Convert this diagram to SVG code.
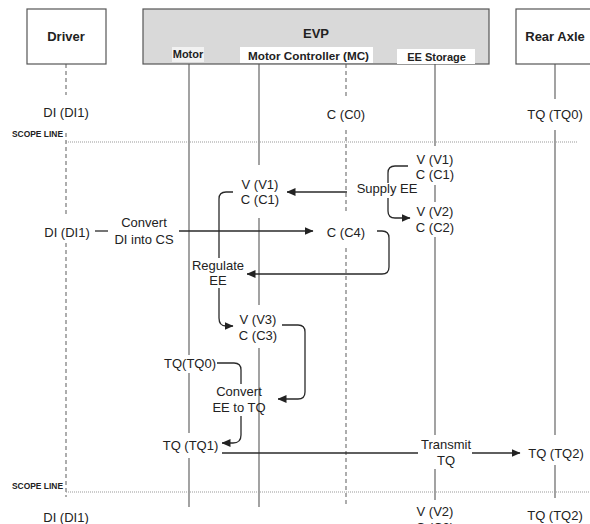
<svg xmlns="http://www.w3.org/2000/svg" width="590" height="524" viewBox="0 0 590 524">
<defs>
<marker id="ah" markerWidth="9" markerHeight="8" refX="8.5" refY="4" orient="auto" markerUnits="userSpaceOnUse">
<path d="M0,0 L9,4 L0,8 Z" fill="#222"/>
</marker>
<style>
.t{font-family:"Liberation Sans",Arial,sans-serif;font-size:13px;fill:#222;text-anchor:middle}
.h{font-family:"Liberation Sans",Arial,sans-serif;font-size:13px;font-weight:bold;fill:#222;text-anchor:middle}
.s{font-family:"Liberation Sans",Arial,sans-serif;font-size:11px;font-weight:bold;fill:#222;text-anchor:middle}
.sc{font-family:"Liberation Sans Narrow","Liberation Sans",Arial,sans-serif;font-size:8.5px;font-weight:bold;fill:#222;text-anchor:start}
.ll{stroke:#666;stroke-width:1.2;fill:none}
.dl{stroke:#777;stroke-width:1.2;stroke-dasharray:4 3;fill:none}
.sl{stroke:#999;stroke-width:1;stroke-dasharray:1 1;fill:none}
.c{stroke:#2a2a2a;stroke-width:1.3;fill:none}
.ca{stroke:#2a2a2a;stroke-width:1.3;fill:none;marker-end:url(#ah)}
</style>
</defs>
<rect width="590" height="524" fill="#fff"/>

<g id="lifelines">
<path class="dl" d="M66,64V95M66,133V215M66,243V497"/>
<path class="dl" d="M346,64V99M346,130V212M346,248V507"/>
<path class="ll" d="M189,64V355M189,373V433M189,458V507"/>
<path class="ll" d="M259,64V165M259,218V305M259,348V507"/>
<path class="ll" d="M435,64V146M435,185V202M435,237V435M435,469V500"/>
<path class="ll" d="M555,64V99M555,130V435M555,465V498"/>
</g>

<g id="scope-lines">
<path class="sl" d="M66,142H577"/>
<text class="sc" x="12" y="137" textLength="51" lengthAdjust="spacingAndGlyphs">SCOPE LINE</text>
<path class="sl" d="M66,492H590"/>
<text class="sc" x="12" y="489" textLength="51" lengthAdjust="spacingAndGlyphs">SCOPE LINE</text>
</g>

<g id="driver">
<rect x="27" y="9" width="79" height="55" fill="#fff" stroke="#555" stroke-width="1.2"/>
<text class="h" x="66" y="41">Driver</text>
</g>

<g id="evp">
<rect x="143" y="9" width="346" height="55" fill="#d9d9d9" stroke="#555" stroke-width="1.2"/>
<text class="h" x="316" y="38">EVP</text>
<rect x="172" y="47" width="32" height="15" fill="#f2f2f2"/>
<text class="s" x="188" y="58" font-size="10.5">Motor</text>
<rect x="240" y="47" width="133" height="16" fill="#fff"/>
<text class="s" x="308.5" y="60" textLength="121" lengthAdjust="spacingAndGlyphs">Motor Controller (MC)</text>
<rect x="397" y="49" width="78" height="15" fill="#fff"/>
<text class="s" x="436.5" y="61">EE Storage</text>
</g>

<g id="rear-axle">
<rect x="516" y="9" width="80" height="55" fill="#fff" stroke="#555" stroke-width="1.2"/>
<text class="h" x="555" y="41">Rear Axle</text>
</g>

<g id="connectors">
<path class="ca" d="M347,192H287"/>
<path class="c" d="M408,166H395Q388,166 388,173V183"/>
<path class="ca" d="M388,198V211Q388,218 395,218H410"/>
<path class="c" d="M233,192H226Q219,192 219,199V258"/>
<path class="ca" d="M219,288V318Q219,326 226,326H233"/>
<path class="c" d="M95,231H108"/>
<path class="ca" d="M179,231H313"/>
<path class="ca" d="M377,231H382Q389,231 389,238V267Q389,274 382,274H247"/>
<path class="ca" d="M282,325H298Q305,325 305,332V392Q305,399 298,399H278"/>
<path class="c" d="M217,363H234Q241,363 241,370V384"/>
<path class="ca" d="M241,416V435Q241,443 233,443H222"/>
<path class="c" d="M222,453H418"/>
<path class="ca" d="M472,453H520"/>
</g>

<g id="driver-states">
<text class="t" x="66" y="117">DI (DI1)</text>
<text class="t" x="67" y="237">DI (DI1)</text>
<text class="t" x="66" y="522">DI (DI1)</text>
</g>

<g id="mc-states">
<text class="t" x="346" y="119">C (C0)</text>
<text class="t" x="260" y="188.5">V (V1)</text>
<text class="t" x="260" y="204">C (C1)</text>
<text class="t" x="346" y="237">C (C4)</text>
<text class="t" x="258" y="324">V (V3)</text>
<text class="t" x="258" y="340">C (C3)</text>
</g>

<g id="ee-states">
<text class="t" x="435" y="164">V (V1)</text>
<text class="t" x="435" y="179">C (C1)</text>
<text class="t" x="435" y="216">V (V2)</text>
<text class="t" x="435" y="232">C (C2)</text>
<text class="t" x="435" y="516">V (V2)</text>
<text class="t" x="435" y="532">C (C2)</text>
</g>

<g id="motor-states">
<text class="t" x="190" y="368">TQ(TQ0)</text>
<text class="t" x="190.5" y="450">TQ (TQ1)</text>
</g>

<g id="rear-states">
<text class="t" x="555" y="119">TQ (TQ0)</text>
<text class="t" x="556" y="458">TQ (TQ2)</text>
<text class="t" x="555" y="520">TQ (TQ2)</text>
</g>

<g id="functions">
<text class="t" x="387" y="193">Supply EE</text>
<text class="t" x="144" y="227">Convert</text>
<text class="t" x="144" y="244">DI into CS</text>
<text class="t" x="218" y="270">Regulate</text>
<text class="t" x="218" y="285">EE</text>
<text class="t" x="239" y="396">Convert</text>
<text class="t" x="239" y="412">EE to TQ</text>
<text class="t" x="446" y="449">Transmit</text>
<text class="t" x="446" y="465">TQ</text>
</g>
</svg>
